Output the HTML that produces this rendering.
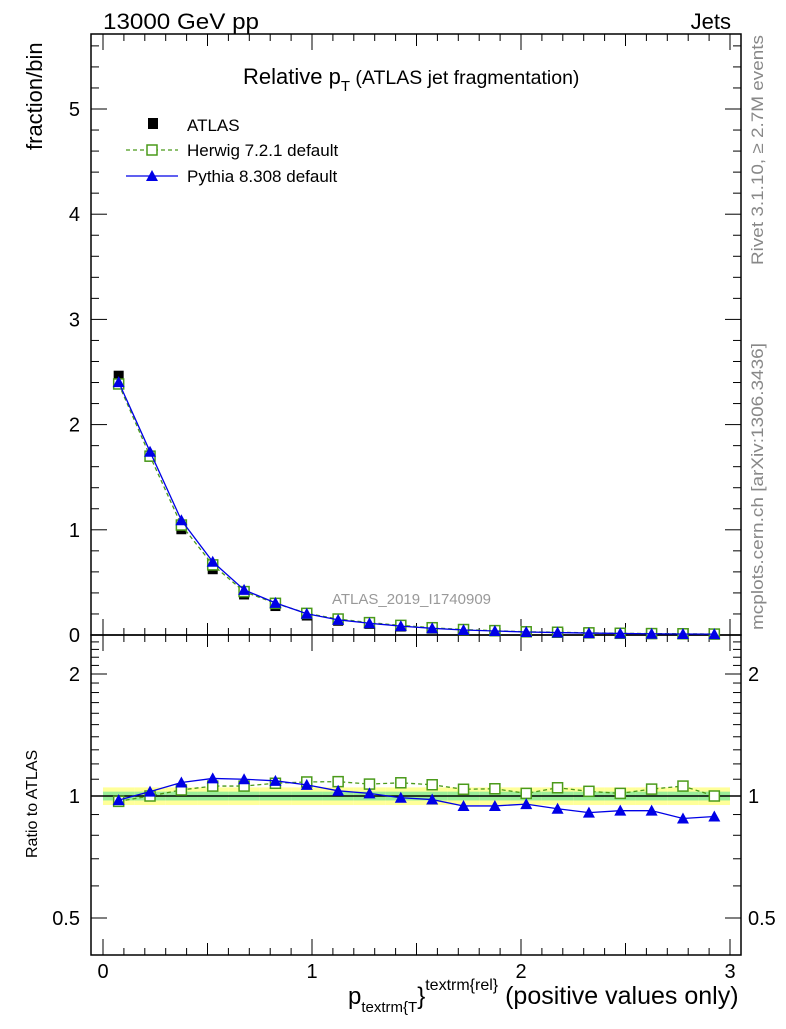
<!DOCTYPE html>
<html><head><meta charset="utf-8"><style>
body{margin:0;background:#fff;width:786px;height:1024px;overflow:hidden}
svg{font-family:"Liberation Sans",sans-serif}
</style></head><body>
<svg id="chart" width="786" height="1024" viewBox="0 0 786 1024" xmlns="http://www.w3.org/2000/svg">
<text x="103" y="29" font-size="22" textLength="156" lengthAdjust="spacingAndGlyphs">13000 GeV pp</text>
<text x="731" y="29" font-size="22" text-anchor="end">Jets</text>
<text x="243" y="84" font-size="22">Relative p<tspan font-size="15" dy="7">T</tspan><tspan font-size="19.5" dy="-7"> (ATLAS jet fragmentation)</tspan></text>
<text transform="translate(42,150) rotate(-90)" font-size="22" text-anchor="start">fraction/bin</text>
<text transform="translate(37,858) rotate(-90)" font-size="16">Ratio to ATLAS</text>
<text transform="translate(763,265) rotate(-90)" font-size="17" textLength="230" lengthAdjust="spacingAndGlyphs" fill="#888">Rivet 3.1.10, ≥ 2.7M events</text>
<text transform="translate(763,630) rotate(-90)" font-size="17" textLength="287" lengthAdjust="spacingAndGlyphs" fill="#888">mcplots.cern.ch [arXiv:1306.3436]</text>
<text x="332" y="604" font-size="15" fill="#999">ATLAS_2019_I1740909</text>
<text x="348" y="1004" font-size="24">p<tspan font-size="15" dy="8">textrm{T</tspan><tspan dy="-8">}</tspan><tspan font-size="16" dy="-14">textrm{rel}</tspan><tspan dy="14" font-size="25"> (positive values only)</tspan></text>
<g id="legend">
<rect x="148" y="118" width="10" height="11" fill="#000"/>
<text x="187" y="131" font-size="17">ATLAS</text>
<line x1="126" y1="150" x2="178" y2="150" stroke="#4a9a1a" stroke-dasharray="4,3" stroke-width="1.3"/>
<rect x="147" y="145" width="10" height="10" fill="#fff" stroke="#4a9a1a" stroke-width="1.5"/>
<text x="187" y="156" font-size="17">Herwig 7.2.1 default</text>
<line x1="126" y1="176" x2="178" y2="176" stroke="#0000e6" stroke-width="1.3"/>
<polygon points="152,170 158,181 146,181" fill="#0000e6"/>
<text x="187" y="182" font-size="17">Pythia 8.308 default</text>
</g>
</svg>
<script>
const xCenters=[0.075,0.225,0.375,0.525,0.675,0.825,0.975,1.125,1.275,1.425,1.575,1.725,1.875,2.025,2.175,2.325,2.475,2.625,2.775,2.925];
const atlasVals=[2.46,1.70,1.01,0.63,0.39,0.28,0.19,0.14,0.11,0.085,0.065,0.05,0.04,0.03,0.025,0.02,0.016,0.013,0.011,0.009];
const herwigRatio=[0.97,1.0,1.035,1.058,1.058,1.075,1.083,1.085,1.07,1.078,1.066,1.039,1.042,1.015,1.048,1.027,1.015,1.04,1.058,1.0];
const pythiaRatio=[0.977,1.025,1.08,1.105,1.10,1.09,1.065,1.03,1.015,0.99,0.98,0.945,0.945,0.955,0.93,0.91,0.92,0.92,0.88,0.89];
const bandYellow=0.05, bandGreen=0.025;
const mainYTicks=[0,1,2,3,4,5];
const ratioYTicks=[0.5,1,2];
const xTicks=[0,1,2,3];

const NS="http://www.w3.org/2000/svg";
const svg=document.getElementById('chart');
const L=91,R=741,T=34,MB=635,RB=955;
const X=v=>103+v*209;
const Y=v=>635-v*105.2;
const YR=r=>796-122*Math.log2(r);
function el(tag,attrs,parent){const e=document.createElementNS(NS,tag);for(const k in attrs)e.setAttribute(k,attrs[k]);(parent||svg).appendChild(e);return e;}

xCenters.forEach((c,i)=>{
 const x0=X(c-0.075),w=0.15*209;
 const yb=el('rect',{x:x0,y:YR(1+bandYellow),width:w,height:YR(1-bandYellow)-YR(1+bandYellow),fill:'#ffff99'});
 
 
 const gb=el('rect',{x:x0,y:YR(1+bandGreen),width:w,height:YR(1-bandGreen)-YR(1+bandGreen),fill:'#99ee99'});
 
 
});
const one=el('line',{x1:L,x2:R,y1:YR(1),y2:YR(1),stroke:'#000','stroke-width':1.5});



const f1=el('rect',{x:L,y:T,width:R-L,height:MB-T,fill:'none',stroke:'#000','stroke-width':1.5});


const f2=el('rect',{x:L,y:MB,width:R-L,height:RB-MB,fill:'none',stroke:'#000','stroke-width':1.5});



for(let k=0;k<=31;k++){
 const v=k/10;const x=X(v);if(x<L||x>R)continue;
 const len=(k%10===0)?16:(k%5===0?12:7);
 [[T,1],[MB,-1],[MB,1],[RB,-1]].forEach(([y,d])=>{el('line',{x1:x,x2:x,y1:y,y2:y+d*len,stroke:'#000','stroke-width':1});});
}
xTicks.forEach(v=>{
 const t=el('text',{x:X(v),y:978,'font-size':20,'text-anchor':'middle'});t.textContent=v;
 
 
});
for(let k=0;k<=28;k++){
 const v=k*0.2;const y=Y(v);if(y<T)continue;
 const len=(k%5===0)?16:8;
 el('line',{x1:L,x2:L+len,y1:y,y2:y,stroke:'#000'});el('line',{x1:R,x2:R-len,y1:y,y2:y,stroke:'#000'});
}
mainYTicks.forEach(v=>{
 const t=el('text',{x:80,y:Y(v)+7,'font-size':20,'text-anchor':'end'});t.textContent=v;
 
 
});
[0.5,0.6,0.7,0.8,0.9,1,2].forEach(v=>{
 const y=YR(v);const len=(v===0.5||v===1||v===2)?16:8;
 el('line',{x1:L,x2:L+len,y1:y,y2:y,stroke:'#000'});el('line',{x1:R,x2:R-len,y1:y,y2:y,stroke:'#000'});
});
for(let v=1.1;v<2.5;v+=0.1){if(Math.abs(v-2)<0.01)continue;const y=YR(v);if(y<MB)break;
 el('line',{x1:L,x2:L+8,y1:y,y2:y,stroke:'#000'});el('line',{x1:R,x2:R-8,y1:y,y2:y,stroke:'#000'});}
ratioYTicks.forEach(v=>{
 const t=el('text',{x:80,y:YR(v)+7,'font-size':20,'text-anchor':'end'});t.textContent=v;
 
 
 const t2=el('text',{x:748,y:YR(v)+7,'font-size':20});t2.textContent=v;
 
 
});

function series(vals,color,dash,marker,ymap,name){
 const pts=xCenters.map((c,i)=>X(c)+','+ymap(vals[i])).join(' ');
 const pl=el('polyline',{points:pts,fill:'none',stroke:color,'stroke-width':1.3,'stroke-dasharray':dash||'none'});
 
 
 xCenters.forEach((c,i)=>{
  const x=X(c),y=ymap(vals[i]);let m;
  if(marker==='sq')m=el('rect',{x:x-5,y:y-5,width:10,height:10,fill:'#fff',stroke:color,'stroke-width':1.5});
  else m=el('polygon',{points:`${x},${y-6} ${x+6},${y+5} ${x-6},${y+5}`,fill:color});
  
  
 });
}
xCenters.forEach((c,i)=>{const m=el('rect',{x:X(c)-5,y:Y(atlasVals[i])-5.5,width:10,height:11,fill:'#000'});
 
 });
series(atlasVals.map((v,i)=>v*herwigRatio[i]),'#4a9a1a','4,3','sq',Y,'herwig');
series(atlasVals.map((v,i)=>v*pythiaRatio[i]),'#0000e6',null,'tri',Y,'pythia');
series(herwigRatio,'#4a9a1a','4,3','sq',YR,'herwig-ratio');
series(pythiaRatio,'#0000e6',null,'tri',YR,'pythia-ratio');
</script>
</body></html>
